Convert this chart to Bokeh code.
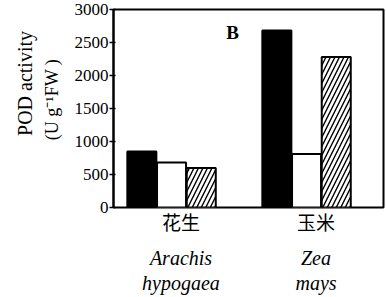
import math
from bokeh.plotting import figure
from bokeh.models import Range1d, FixedTicker, LinearAxis, Label, ColumnDataSource
from bokeh.embed import file_html
from bokeh.resources import INLINE

# ---- data ----
categories_cn = ["花生", "玉米"]
categories_genus = ["Arachis", "Zea"]
categories_species = ["hypogaea", "mays"]
series_a = [850, 2680]     # black bars   (Arachis, Zea)
series_b = [680, 810]      # white bars
series_c = [600, 2280]     # hatched bars
y_ticks = [0, 500, 1000, 1500, 2000, 2500, 3000]
panel_letter = "B"
y_title_1 = "POD activity"
y_title_2 = "(U g⁻¹FW )"

SERIF = "Liberation Serif"
NB = "\u00a0"

p = figure(width=386, height=296, output_backend="svg", toolbar_location=None,
           x_range=Range1d(-0.5, 1.5), y_range=Range1d(0, 3000),
           min_border_left=113, min_border_right=3, min_border_top=9,
           min_border_bottom=10)
p.xaxis.visible = False
p.grid.visible = False
p.outline_line_color = "black"
p.outline_line_width = 2
p.background_fill_color = "white"
p.border_fill_color = "white"

idx = list(range(len(categories_cn)))
offsets = [-0.29, -0.07, 0.15]
width = 0.215
styles = [
    dict(fill_color="black"),
    dict(fill_color="white"),
    dict(fill_color="white", hatch_pattern="/", hatch_color="black",
         hatch_scale=9, hatch_weight=1.4),
]
for vals, off, st in zip([series_a, series_b, series_c], offsets, styles):
    src = ColumnDataSource(dict(x=[i + off for i in idx], top=vals))
    p.vbar(x="x", top="top", bottom=0, width=width, source=src,
           line_color="black", line_width=2, **st)

# y axis (tick labels + inner title line)
yax = p.yaxis[0]
yax.ticker = FixedTicker(ticks=y_ticks)
yax.minor_tick_line_color = None
yax.major_tick_in = 2
yax.major_tick_out = 4
yax.major_tick_line_width = 1.5
yax.axis_line_width = 2
yax.major_label_standoff = 1
yax.major_label_text_font = SERIF
yax.major_label_text_font_size = "17px"
yax.major_label_text_color = "black"
yax.axis_label = NB * 4 + y_title_2
yax.axis_label_standoff = 10
yax.axis_label_text_font = SERIF
yax.axis_label_text_font_style = "normal"
yax.axis_label_text_font_size = "18px"
yax.axis_label_text_color = "black"

# outer y title line
yax2 = LinearAxis(ticker=FixedTicker(ticks=[]), axis_label=NB * 10 + y_title_1)
yax2.axis_line_color = None
yax2.major_tick_line_color = None
yax2.minor_tick_line_color = None
yax2.major_tick_in = 0
yax2.major_tick_out = 0
yax2.major_label_standoff = 0
yax2.axis_label_standoff = 3
yax2.axis_label_text_font = SERIF
yax2.axis_label_text_font_style = "normal"
yax2.axis_label_text_font_size = "20px"
yax2.axis_label_text_color = "black"
p.add_layout(yax2, "left")

# x axes (three stacked label rows)
rows = [
    (categories_cn, "Noto Sans CJK SC", "normal", "19px", 0),
    (categories_genus, SERIF, "italic", "20px", 9),
    (categories_species, SERIF, "italic", "20px", 0),
]
for labels, font, style, size, standoff in rows:
    ax = LinearAxis(ticker=FixedTicker(ticks=idx),
                    major_label_overrides={i: t for i, t in zip(idx, labels)})
    ax.axis_line_color = None
    ax.major_tick_line_color = None
    ax.minor_tick_line_color = None
    ax.major_tick_in = 0
    ax.major_tick_out = 0
    ax.major_label_standoff = standoff
    ax.major_label_text_font = font
    ax.major_label_text_font_style = style
    ax.major_label_text_font_size = size
    ax.major_label_text_color = "black"
    p.add_layout(ax, "below")

# panel letter (screen units relative to the plot frame)
p.add_layout(Label(x=119, y=175, x_units="screen", y_units="screen",
                   text=panel_letter, text_align="center", text_baseline="middle",
                   text_font=SERIF, text_font_style="bold", text_font_size="19px",
                   text_color="black"))

open("out.html", "w").write(file_html(p, INLINE))
